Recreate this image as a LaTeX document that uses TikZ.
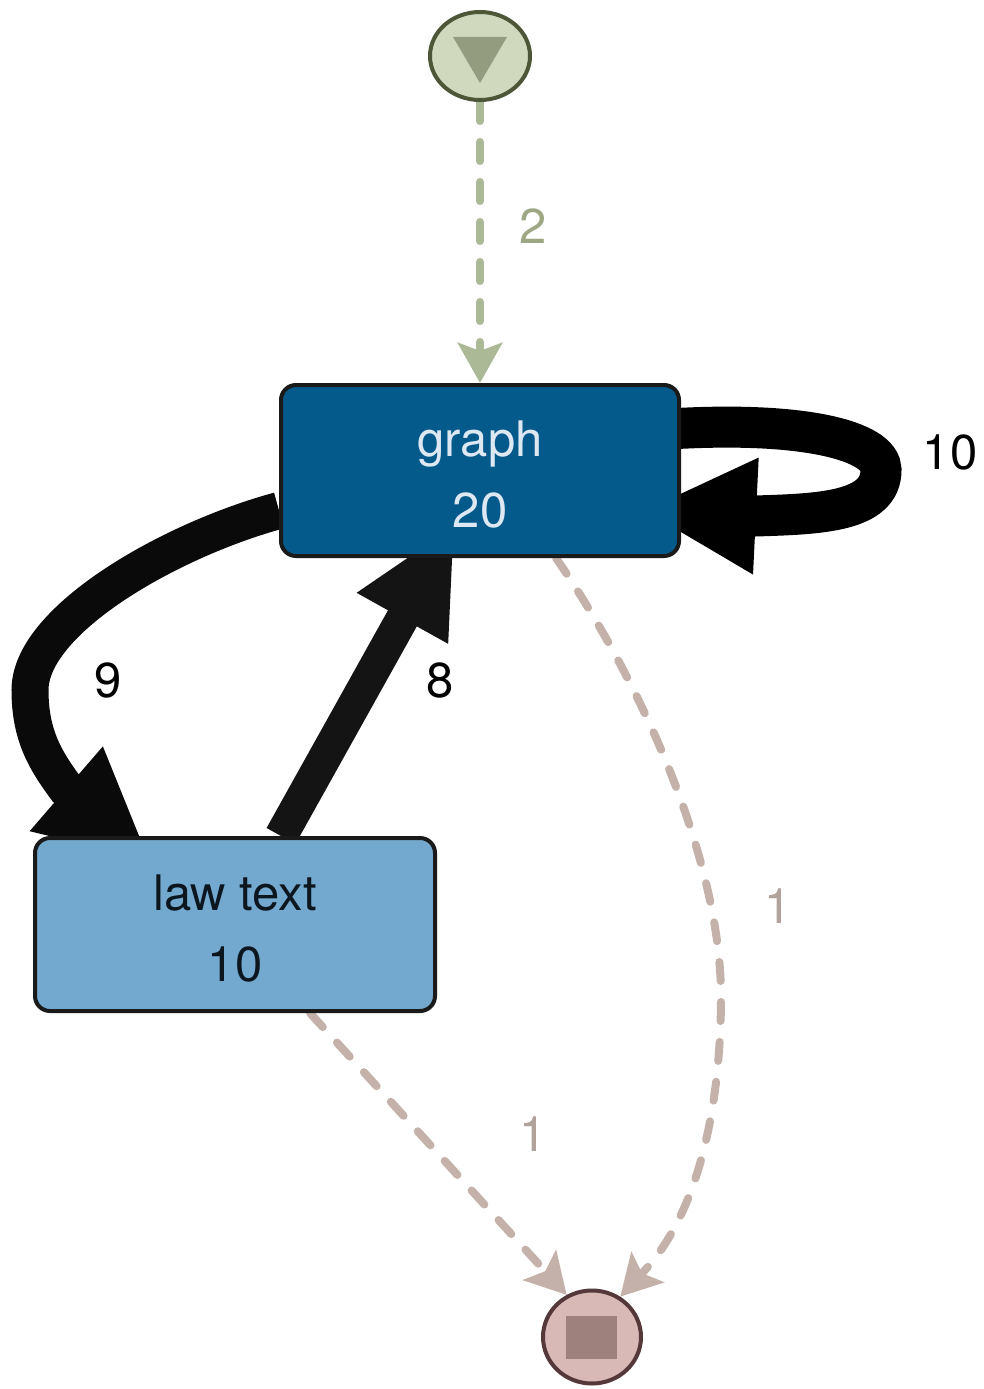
\documentclass[tikz,border=0pt]{standalone}
\usepackage{fontspec}
\setmainfont{TeX Gyre Heros}
\usetikzlibrary{arrows.meta, calc, shapes.geometric}
\definecolor{graphblue}{HTML}{055A8C}
\definecolor{graphtext}{HTML}{DDE8F2}
\definecolor{lawblue}{HTML}{74A9CF}
\definecolor{lawtext}{HTML}{0C161E}
\definecolor{boxline}{HTML}{1A1A1A}
\definecolor{startfill}{HTML}{D0D9BE}
\definecolor{startline}{HTML}{4D5637}
\definecolor{startmark}{HTML}{949C80}
\definecolor{stopfill}{HTML}{D9B9B6}
\definecolor{stopline}{HTML}{55393A}
\definecolor{stopmark}{HTML}{9E807C}
\definecolor{greenedge}{HTML}{ABB997}
\definecolor{greenlabel}{HTML}{9DA784}
\definecolor{brownedge}{HTML}{C4B2AA}
\definecolor{brownlabel}{HTML}{B1A29B}
\pgfdeclarelayer{edges}
\pgfsetlayers{edges,main}
\newcommand{\toprule}{\rule{0pt}{44pt}}% pushes the two text lines down a little
\tikzset{
  activity/.style={rectangle, rounded corners=15pt, draw=boxline, line width=4pt,
    minimum width=398pt, minimum height=171pt, inner sep=0pt, align=center,
    font=\fontsize{49}{71}\selectfont},
  terminal/.style={ellipse, line width=4pt, inner sep=0pt},
  lbl/.style={inner sep=0pt, font=\fontsize{49}{59}\selectfont},
  dashedge/.style={line width=8pt, line cap=round, dash pattern=on 19pt off 21pt,
    -{Stealth[length=40pt, width=44pt, inset=8pt]}},
}
\begin{document}
\begin{tikzpicture}[x=1pt,y=-1pt]
  \useasboundingbox (0,0) rectangle (984,1389);

  \node[terminal, draw=startline, fill=startfill, minimum width=100pt, minimum height=88pt] (start) at (480,56) {};
  \node[activity, fill=graphblue, text=graphtext] (graph) at (480,470.5) {\toprule graph\\20};
  \node[activity, fill=lawblue, text=lawtext, minimum width=400pt, minimum height=173pt] (law) at (235,924.5) {\toprule law text\\10};
  \node[terminal, draw=stopline, fill=stopfill, minimum width=98pt, minimum height=93pt] (stop) at (592,1337) {};

  \fill[startmark] ($(start)+(-27,-19)$) -- ($(start)+(27,-19)$) -- ($(start)+(0,27)$) -- cycle;
  \fill[stopmark] ($(stop)+(-26,-21)$) rectangle ($(stop)+(25,22)$);

  %%%%%%%%%%%%%%%%%%%%%%%%%%%%%%

  \begin{pgfonlayer}{edges}
    \draw[dashedge, greenedge] (start) -- (graph);
    \draw[line width=41pt, black, -{Triangle[length=114pt, width=108pt]}]
      ($(graph.east)+(-20,-41)$) .. controls (800,420) and (881,440) .. (881,470)
      .. controls (881,512) and (820,514) .. (755,516) -- ($(graph.east)+(-39,40)$);
    \draw[line width=37pt, black!96, -{Triangle[length=112pt, width=103pt]}]
      ($(graph.west)+(0,40)$) .. controls (170,540) and (30,620) .. (30,690)
      .. controls (30,735) and (45,760) .. (66.5,789) -- ($(law.north)+(-84,26)$);
    \draw[line width=33pt, black!92, -{Triangle[length=108pt, width=96pt]}]
      ($(law.north)+(46,0)$) -- ($(graph.south)+(-25,-34)$);
    \draw[dashedge, brownedge]
      ($(graph.south)+(76,0)$) .. controls (640,680) and (722,860) .. (721,1000)
      .. controls (720,1130) and (690,1220) .. (646,1269) -- (stop.55);
    \draw[dashedge, brownedge] ($(law.south)+(75,0)$) -- (stop.121);
  \end{pgfonlayer}

  \node[lbl, text=greenlabel] (f2) at (533,226) {2};
  \node[lbl] (f10) at (950,452) {10};
  \node[lbl] (f9) at (108,680) {9};
  \node[lbl] (f8) at (440,680) {8};
  \node[lbl, text=brownlabel] (f1a) at (778,906) {1};
  \node[lbl, text=brownlabel] (f1b) at (533,1134) {1};
\end{tikzpicture}
\end{document}
